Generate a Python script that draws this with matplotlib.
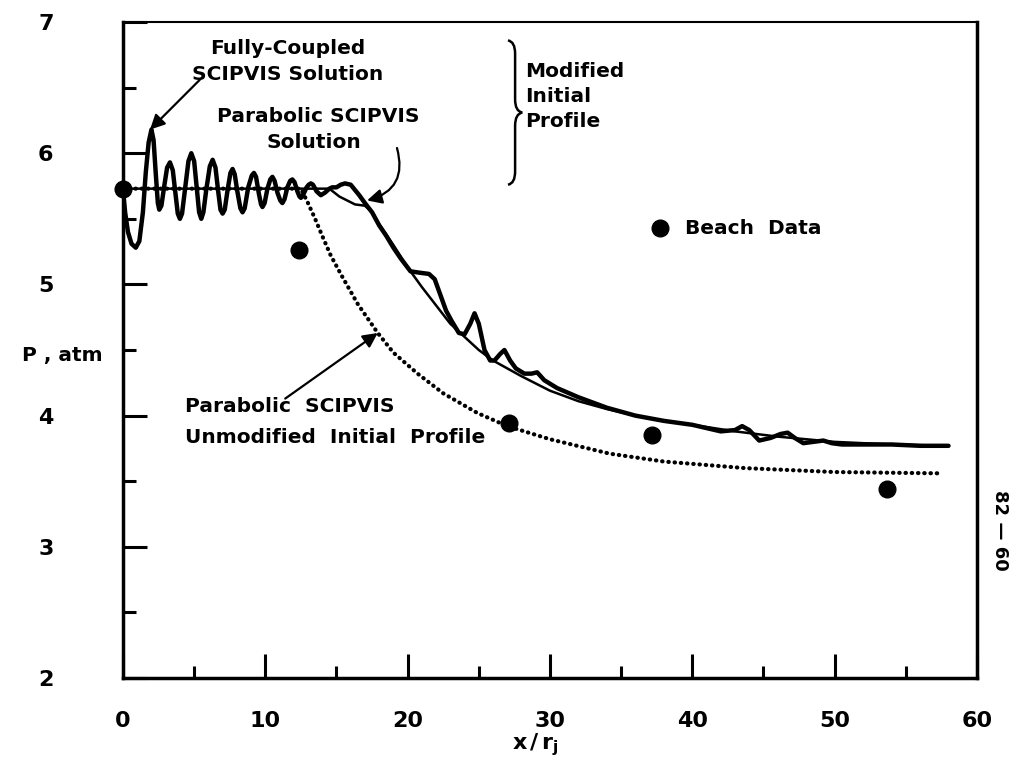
import matplotlib
matplotlib.use("Agg")
import matplotlib.pyplot as plt
from matplotlib.path import Path
from matplotlib.patches import PathPatch
from matplotlib.ticker import MultipleLocator

# ---- data ----
fc_x = [0, 0.15, 0.35, 0.6, 0.9, 1.15, 1.4, 1.6, 1.8, 2.0, 2.15, 2.3, 2.45, 2.55, 2.7, 2.9,
        3.1, 3.3, 3.5, 3.7, 3.85, 4.0, 4.15, 4.35, 4.6, 4.8, 5.0, 5.2, 5.35, 5.5, 5.65, 5.85,
        6.1, 6.3, 6.5, 6.7, 6.85, 7.0, 7.15, 7.35, 7.55, 7.7, 7.85, 8.05, 8.25, 8.4, 8.55,
        8.8, 9.05, 9.2, 9.35, 9.55, 9.7, 9.8, 9.95, 10.15, 10.35, 10.5, 10.65, 10.85, 11.05,
        11.2, 11.35, 11.55, 11.75, 11.9, 12.05, 12.25, 12.4, 12.5, 12.65, 12.9, 13.05, 13.2,
        13.35, 13.6, 13.9, 14.2, 14.5, 14.7, 15.0, 15.3, 15.6, 16.0, 16.3, 16.6, 17.0, 17.5,
        18.0, 18.5, 19.0, 19.5, 20.2, 20.8, 21.5, 21.9, 22.3, 22.7, 23.1, 23.6, 24.0, 24.4,
        24.7, 25.0, 25.4, 25.8, 26.1, 26.5, 26.8, 27.2, 27.6, 28.2, 28.7, 29.1, 29.6, 30.5,
        32, 34, 36, 38, 40, 42, 43, 43.5, 44, 44.7, 45.5, 46.2, 46.7, 47.2, 47.8, 48.5, 49.2,
        49.8, 50.5, 52, 54, 56, 58]
fc_y = [5.73, 5.55, 5.40, 5.31, 5.28, 5.33, 5.55, 5.85, 6.08, 6.18, 6.10, 5.85, 5.62, 5.57,
        5.60, 5.75, 5.89, 5.93, 5.87, 5.68, 5.54, 5.50, 5.54, 5.72, 5.94, 6.00, 5.94, 5.72,
        5.55, 5.50, 5.55, 5.72, 5.90, 5.95, 5.89, 5.70, 5.57, 5.54, 5.57, 5.72, 5.85, 5.88,
        5.84, 5.70, 5.58, 5.55, 5.58, 5.74, 5.83, 5.85, 5.82, 5.69, 5.61, 5.59, 5.62, 5.73,
        5.80, 5.82, 5.79, 5.70, 5.64, 5.62, 5.65, 5.74, 5.79, 5.80, 5.78, 5.71, 5.67, 5.66,
        5.68, 5.74, 5.76, 5.77, 5.76, 5.71, 5.68, 5.70, 5.73, 5.74, 5.74, 5.76, 5.77, 5.76,
        5.72, 5.68, 5.62, 5.55, 5.45, 5.37, 5.28, 5.20, 5.10, 5.09, 5.08, 5.04, 4.92, 4.80,
        4.72, 4.63, 4.62, 4.70, 4.78, 4.70, 4.50, 4.42, 4.42, 4.47, 4.50, 4.42, 4.36, 4.32,
        4.32, 4.33, 4.27, 4.21, 4.14, 4.06, 4.00, 3.96, 3.93, 3.88, 3.89, 3.92, 3.89, 3.81,
        3.83, 3.86, 3.87, 3.83, 3.79, 3.80, 3.81, 3.79, 3.78, 3.78, 3.78, 3.77, 3.77]

par_x = [0, 14.5, 15.2, 16.3, 17.0, 17.5, 18, 19, 20, 21, 22, 23, 24, 25, 26, 27, 28, 30,
         32, 34, 36, 38, 40, 43, 46, 50, 54, 58]
par_y = [5.73, 5.73, 5.67, 5.61, 5.60, 5.55, 5.46, 5.30, 5.13, 4.98, 4.84, 4.70, 4.60, 4.50,
         4.42, 4.36, 4.30, 4.19, 4.11, 4.05, 4.00, 3.96, 3.93, 3.88, 3.84, 3.80, 3.78, 3.77]

unmod_x = [0, 12.5, 13.0, 13.5, 14.0, 14.6, 15.4, 16.5, 17.9, 19.0, 20.7, 22.5, 24.9, 27.0,
           30, 34.2, 38, 43.7, 50, 57.5]
unmod_y = [5.73, 5.73, 5.62, 5.50, 5.37, 5.22, 5.06, 4.85, 4.63, 4.48, 4.32, 4.17, 4.02,
           3.92, 3.82, 3.71, 3.65, 3.60, 3.57, 3.56]

beach_x = [0, 12.4, 27.1, 37.2, 53.7]
beach_y = [5.73, 5.26, 3.94, 3.85, 3.44]

x_ticks = [0, 10, 20, 30, 40, 50, 60]
x_tick_labels = ["0", "10", "20", "30", "40", "50", "60"]
y_ticks = [2, 3, 4, 5, 6, 7]
y_tick_labels = ["2", "3", "4", "5", "6", "7"]

# ---- figure ----
fig = plt.figure(figsize=(10.18, 7.65), dpi=100)
ax = fig.add_axes([0.1208, 0.1137, 0.8389, 0.8575])
ax.set_xlim(0, 60)
ax.set_ylim(2, 7)

ax.plot(par_x, par_y, color="black", lw=1.8, zorder=3)
ax.plot(fc_x, fc_y, color="black", lw=3.2, solid_joinstyle="round",
        solid_capstyle="round", zorder=4)
ax.plot(unmod_x, unmod_y, color="black", lw=3.0, linestyle=(0, (0.1, 1.4)),
        dash_capstyle="round", zorder=3)
ax.plot(beach_x, beach_y, "o", color="black", markersize=12, zorder=5, clip_on=False)

# ticks
ax.set_xticks(x_ticks)
ax.set_xticklabels(x_tick_labels)
ax.set_yticks(y_ticks)
ax.set_yticklabels(y_tick_labels)
ax.xaxis.set_minor_locator(MultipleLocator(5))
ax.yaxis.set_minor_locator(MultipleLocator(0.5))
ax.tick_params(which="major", direction="in", length=17, width=2.2, top=False, right=False)
ax.tick_params(which="minor", direction="in", length=9, width=2.2, top=False, right=False)
ax.tick_params(axis="x", pad=24)
ax.tick_params(axis="y", pad=50)
for lab in ax.get_xticklabels() + ax.get_yticklabels():
    lab.set_fontweight("bold")
    lab.set_fontsize(16)
for s in ["left", "bottom", "right"]:
    ax.spines[s].set_linewidth(2.5)
ax.spines["top"].set_linewidth(1.5)

tkw = dict(fontsize=14.5, fontweight="bold", color="black")

# annotations
ax.text(11.6, 6.80, "Fully-Coupled", ha="center", va="center", **tkw)
ax.text(11.6, 6.60, "SCIPVIS Solution", ha="center", va="center", **tkw)
ax.annotate("", xy=(1.9, 6.18), xytext=(5.4, 6.56),
            arrowprops=dict(arrowstyle="-|>", lw=1.6, color="black", mutation_scale=22,
                            shrinkA=0, shrinkB=0))

ax.text(13.7, 6.28, "Parabolic SCIPVIS", ha="center", va="center", **tkw)
ax.text(13.4, 6.08, "Solution", ha="center", va="center", **tkw)
ax.annotate("", xy=(17.15, 5.64), xytext=(19.25, 6.04),
            arrowprops=dict(arrowstyle="-|>", lw=1.6, color="black", mutation_scale=22,
                            shrinkA=0, shrinkB=0, connectionstyle="arc3,rad=-0.5"))

ax.text(28.25, 6.62, "Modified", ha="left", va="center", **tkw)
ax.text(28.25, 6.43, "Initial", ha="left", va="center", **tkw)
ax.text(28.25, 6.24, "Profile", ha="left", va="center", **tkw)

# brace
verts = [(27.05, 6.86), (27.55, 6.85), (27.55, 6.76),
         (27.55, 6.41),
         (27.55, 6.32), (28.05, 6.31),
         (27.55, 6.30), (27.55, 6.21),
         (27.55, 5.86),
         (27.55, 5.77), (27.05, 5.76)]
codes = [Path.MOVETO, Path.CURVE3, Path.CURVE3, Path.LINETO, Path.CURVE3, Path.CURVE3,
         Path.CURVE3, Path.CURVE3, Path.LINETO, Path.CURVE3, Path.CURVE3]
ax.add_patch(PathPatch(Path(verts, codes), fill=False, lw=1.8, color="black"))

ax.plot([37.7], [5.43], "o", color="black", markersize=12)
ax.text(39.5, 5.43, "Beach  Data", ha="left", va="center", **tkw)

ax.text(4.36, 4.07, "Parabolic  SCIPVIS", ha="left", va="center", **tkw)
ax.text(4.36, 3.83, "Unmodified  Initial  Profile", ha="left", va="center", **tkw)
ax.annotate("", xy=(17.9, 4.63), xytext=(11.4, 4.13),
            arrowprops=dict(arrowstyle="-|>", lw=1.6, color="black", mutation_scale=22,
                            shrinkA=0, shrinkB=0))

fig.text(22 / 1018, 1 - 356 / 765, "P , atm", ha="left", va="center", **tkw)
fig.text(535 / 1018, 1 - 745 / 765, r"$\mathbf{x\,/\,r_j}$", ha="center", va="center",
         fontsize=16)
fig.text(1000 / 1018, 1 - 530 / 765, "82 — 60", ha="center", va="center", rotation=-90,
         fontsize=13, fontweight="bold")

fig.savefig("out.png", dpi=100)
